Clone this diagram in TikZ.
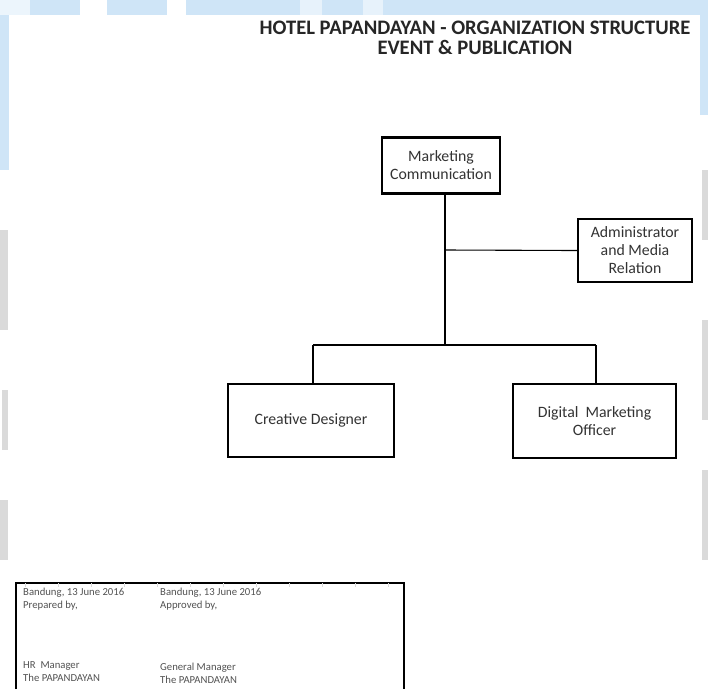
\documentclass[tikz,border=0pt]{standalone}
\usepackage{fontspec}
\setmainfont{Carlito}
\definecolor{wmblue}{HTML}{CFE5F7}
\definecolor{wmgrey}{HTML}{DADADA}
\definecolor{txtgrey}{HTML}{333333}
\tikzset{
  orgbox/.style={draw=black, line width=2.4pt, fill=white, align=center, inner sep=0pt, font=\fontsize{15.8}{18}\selectfont, text=txtgrey},
  link/.style={draw=black, line width=1.1pt},
  sig/.style={anchor=north west, align=left, inner sep=0pt, font=\fontsize{10.7}{13}\selectfont, text=txtgrey!85},
  titletext/.style={align=center, inner sep=0pt, font=\bfseries\fontsize{20.6}{20.5}\selectfont, text=black!85}
}
\begin{document}
\begin{tikzpicture}[x=1pt,y=-1pt]
\useasboundingbox (0,0) rectangle (708,689);
% watermark background
\fill[wmblue] (0,0) rectangle (708,689);
\fill[white] (9,15) rectangle (700,689);
\fill[wmblue!40] (0,0) rectangle (30,15);
\fill[white] (80,0) rectangle (107,15);
\fill[white] (167,0) rectangle (186,15);
\fill[wmblue!50] (300,0) rectangle (322,15);
\fill[wmblue!50] (363,0) rectangle (383,15);
\fill[white] (0,170) rectangle (9,689);
\fill[wmgrey] (0,230) rectangle (8,330);
\fill[wmgrey] (2,390) rectangle (8,450);
\fill[wmgrey] (0,500) rectangle (8,560);
\fill[white] (700,115) rectangle (708,689);
\fill[wmgrey] (702,170) rectangle (708,240);
\fill[wmgrey] (702,320) rectangle (708,420);
\fill[wmgrey] (702,470) rectangle (708,560);
% title
\node[titletext] (title) at (475,38) {HOTEL PAPANDAYAN - ORGANIZATION STRUCTURE\\EVENT \& PUBLICATION};
% boxes
\node[orgbox, minimum width=118pt, minimum height=56pt] (mc) at (441,165.5) {Marketing\\Communication};
\node[orgbox, minimum width=114pt, minimum height=63pt] (adm) at (635,250.5) {Administrator\\and Media\\Relation};
\node[orgbox, minimum width=166pt, minimum height=73pt] (cd) at (311,420.5) {Creative Designer};
\node[orgbox, minimum width=163pt, minimum height=74pt] (dm) at (594.5,421) {Digital\ \ Marketing\\Officer};
% junctions
\coordinate (jadm) at (445,250);
\coordinate (jbus) at (445,345);
\coordinate (jl) at (313,345);
\coordinate (jr) at (596,345);
% connectors
\draw[link] (mc.south -| jbus) -- (jbus);
\draw[link] (jadm) -- (adm.west);
\draw[link] (jl) -- (jr);
\draw[link] (jl) -- (jl |- cd.north);
\draw[link] (jr) -- (jr |- dm.north);
% signature table
\draw[black, line width=1.1pt] (16,689) -- (16,583) -- (404,583) -- (404,689);
\foreach \x in {25,58,91,124,157,190,223,256,289,322,355,388}{\draw[wmgrey, line width=0.6pt] (\x,583) -- (\x,587);}
\node[sig] (p1) at (23,588) {Bandung, 13 June 2016\\Prepared by,};
\node[sig] (p2) at (160,588) {Bandung, 13 June 2016\\Approved by,};
\node[sig] (s1) at (23,661) {HR\ \ Manager\\The PAPANDAYAN};
\node[sig] (s2) at (160,663) {General Manager\\The PAPANDAYAN};
\end{tikzpicture}
\end{document}
